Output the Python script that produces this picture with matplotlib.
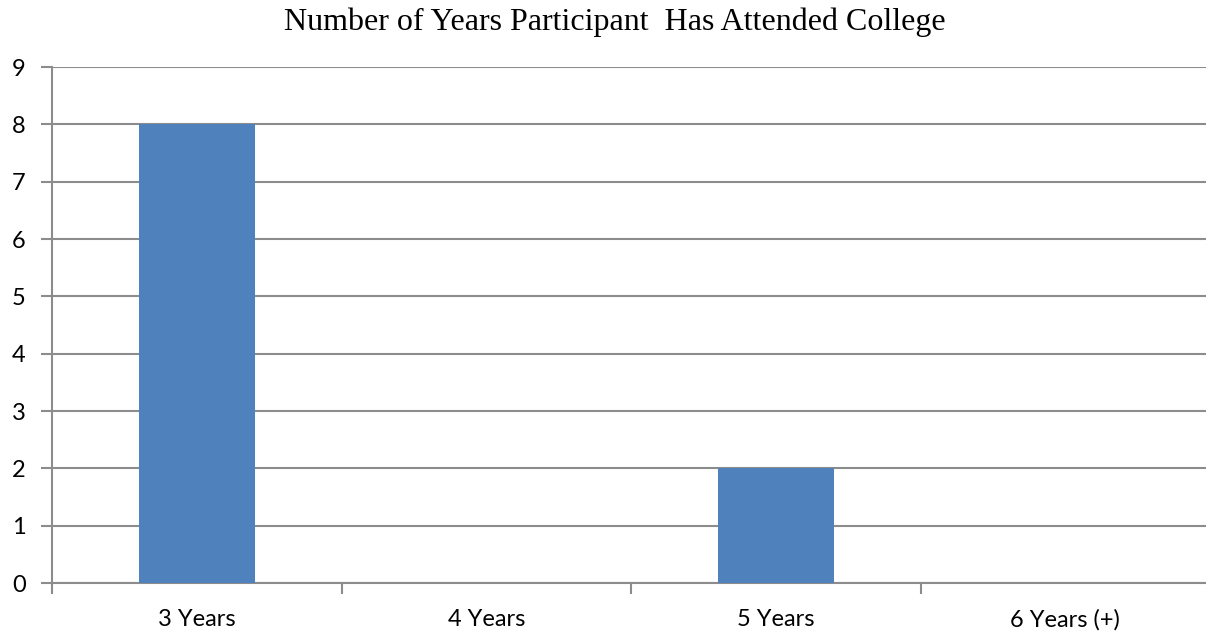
import matplotlib
matplotlib.use('Agg')
import matplotlib.pyplot as plt
import numpy as np

categories = ['3 Years', '4 Years', '5 Years', '6 Years (+)']
counts = [8, 0, 2, 0]
title = 'Number of Years Participant  Has Attended College'

W, H = 1206, 632
fig = plt.figure(figsize=(W / 100, H / 100), dpi=100)
# plot area: left edge at x=52, zero line at y=583, top at y=67
ax = fig.add_axes([52 / W, (H - 583) / H, 1158 / W, 516 / H])

x = np.arange(len(categories))
ax.bar(x, counts, width=0.4, color='#4F81BD', zorder=3)

ax.set_xlim(-0.5, len(categories) - 0.5)
ax.set_ylim(0, 9)
ax.set_yticks(range(0, 10))
ax.yaxis.grid(True, color='#8C8C8C', linewidth=1.5, zorder=0)

# category boundaries as major ticks, labels at centres
ax.set_xticks(np.arange(len(categories) + 1) - 0.5)
ax.set_xticklabels([])
ax.set_xticks(x, minor=True)
ax.set_xticklabels(categories, minor=True)
ax.tick_params(axis='x', which='major', length=8, width=1.5, color='#8C8C8C')
ax.tick_params(axis='x', which='minor', length=0, pad=19)
ax.tick_params(axis='y', length=8, width=1.5, color='#8C8C8C', pad=11)

for lab in ax.get_xticklabels(minor=True) + ax.get_yticklabels():
    lab.set_fontfamily('Lato')
    lab.set_fontsize(17)
    lab.set_color('black')

for side in ['top', 'right']:
    ax.spines[side].set_visible(False)
for side in ['left', 'bottom']:
    ax.spines[side].set_color('#8C8C8C')
    ax.spines[side].set_linewidth(1.5)

fig.text(615 / W, 1 - 22 / H, title, ha='center', va='center',
         fontfamily='Liberation Serif', fontsize=23)

fig.savefig('out.png', dpi=100)
